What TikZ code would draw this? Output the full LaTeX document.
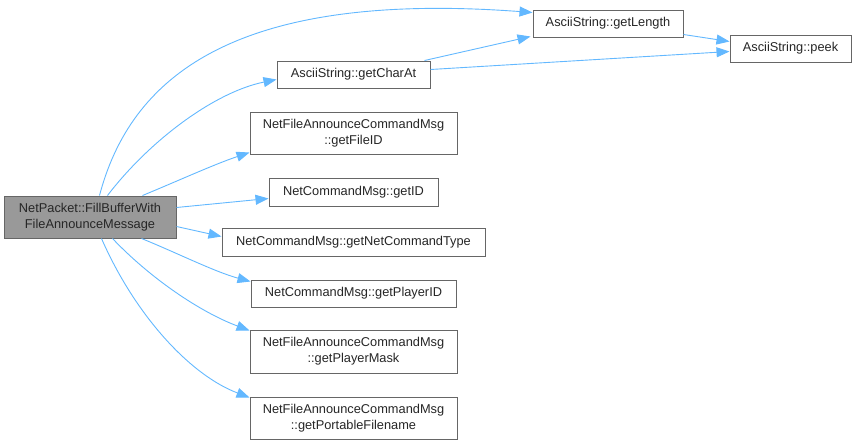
\documentclass[tikz,border=0pt]{standalone}
\usepackage{fontspec}
\setmainfont{Liberation Sans}
\usetikzlibrary{arrows.meta}
\definecolor{edgeblue}{HTML}{63B8FF}
\definecolor{boxline}{HTML}{666666}
\definecolor{mainfill}{HTML}{999999}
\begin{document}
\begin{tikzpicture}[x=1pt,y=-1pt,
  fn/.style={draw=boxline,fill=white,line width=1pt,inner sep=0pt,align=center,
    font=\fontsize{12.8}{16}\selectfont,text=black!85},
  edge/.style={draw=edgeblue,line width=0.9pt,-{Triangle[length=13pt,width=10pt]}}]
\useasboundingbox (0,0) rectangle (856,445);
\node[fn,fill=mainfill,minimum width=172pt,minimum height=42pt] (main) at (90,217) {NetPacket::FillBufferWith\\FileAnnounceMessage};
\node[fn,minimum width=150pt,minimum height=27pt] (gl) at (608,23.5) {AsciiString::getLength};
\node[fn,minimum width=153pt,minimum height=27pt] (gc) at (353.5,74.5) {AsciiString::getCharAt};
\node[fn,minimum width=121pt,minimum height=27pt] (pk) at (790.5,48.5) {AsciiString::peek};
\node[fn,minimum width=207pt,minimum height=42pt] (fid) at (353.5,133) {NetFileAnnounceCommandMsg\\::getFileID};
\node[fn,minimum width=169pt,minimum height=28pt] (gid) at (353.5,192) {NetCommandMsg::getID};
\node[fn,minimum width=263pt,minimum height=28pt] (nct) at (353.5,242) {NetCommandMsg::getNetCommandType};
\node[fn,minimum width=205pt,minimum height=27pt] (pid) at (353.5,293.5) {NetCommandMsg::getPlayerID};
\node[fn,minimum width=207pt,minimum height=43pt] (pm) at (353.5,351.5) {NetFileAnnounceCommandMsg\\::getPlayerMask};
\node[fn,minimum width=207pt,minimum height=42pt] (pf) at (353.5,418) {NetFileAnnounceCommandMsg\\::getPortableFilename};
% edges
\draw[edge] ([xshift=96pt]main.north west) .. controls (130,80) and (230,-10) .. ([yshift=-3pt]gl.north west);
\draw[edge] ([xshift=104pt]main.north west) .. controls (150,140) and (215,92) .. ([yshift=-19pt]gc.north west);
\draw[edge] ([xshift=139pt]main.north west) .. controls (180,180) and (215,164) .. ([yshift=-41pt]fid.north west);
\draw[edge] ([yshift=-12pt]main.north east) -- ([yshift=-21pt]gid.north west);
\draw[edge] ([yshift=-31pt]main.north east) -- ([yshift=-9pt]nct.north west);
\draw[edge] ([xshift=138pt]main.south west) .. controls (175,252) and (215,272) .. ([yshift=-2pt]pid.north west);
\draw[edge] ([xshift=109pt]main.south west) .. controls (150,278) and (200,312) .. ([yshift=-1pt]pm.north west);
\draw[edge] ([xshift=98pt]main.south west) .. controls (135,315) and (190,375) .. ([yshift=-1pt]pf.north west);
\draw[edge] ([xshift=148pt]gc.north west) -- ([xshift=-2pt,yshift=-27pt]gl.north west);
\draw[edge] ([yshift=-9pt]gc.north east) -- ([yshift=-17pt]pk.north west);
\draw[edge] ([yshift=-25pt]gl.north east) -- ([yshift=-7pt]pk.north west);
\end{tikzpicture}
\end{document}
